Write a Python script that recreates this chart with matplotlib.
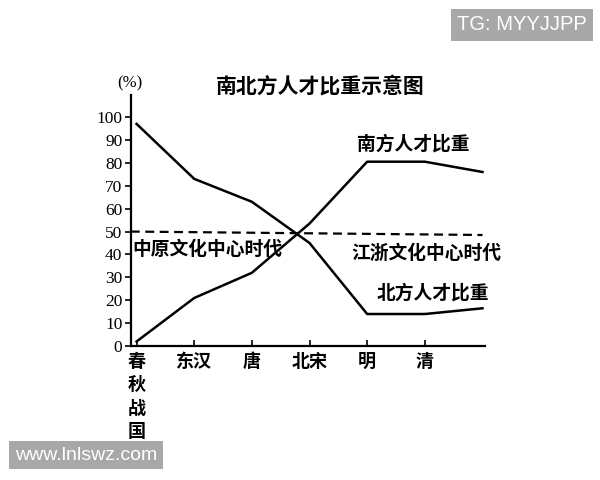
"""
南北方人才比重示意图
"""
import matplotlib
matplotlib.use('Agg')
import matplotlib.pyplot as plt

# 字体设置
plt.rcParams['font.family'] = ['Noto Sans CJK SC', 'DejaVu Sans']
plt.rcParams['axes.unicode_minus'] = False

# 数据
periods = ['春\n秋\n战\n国', '东汉', '唐', '北宋', '明', '清', '']
x_pos = [0, 1, 2, 3, 4, 5, 6]
north_share = [97, 73, 63, 45, 14, 14, 16.5]
south_share = [2, 21, 32, 53.5, 80.5, 80.5, 76]
divide_x = [-0.1, 6.0]
divide_y = [50, 48.5]
y_ticks = list(range(0, 101, 10))

fig = plt.figure(figsize=(6, 4.8), dpi=100)
ax = fig.add_axes([0.218, 0.279, 0.59, 0.523])

ax.plot(x_pos, north_share, color='black', linewidth=1.8)
ax.plot(x_pos, south_share, color='black', linewidth=1.8)
ax.plot(divide_x, divide_y, color='black', linewidth=1.6, linestyle=(0, (4, 2.5)))

ax.set_xlim(-0.1, 6.04)
ax.set_ylim(0, 109.6)

ax.set_yticks(y_ticks)
ax.set_yticklabels([str(v) for v in y_ticks], family='Liberation Serif', fontsize=12.5)
ax.set_xticks(x_pos[:6])
ax.set_xticklabels(periods[:6], fontsize=13, fontweight='bold', linespacing=1.3, va='top')

ax.tick_params(axis='y', direction='out', length=4, width=1.2, pad=2)
ax.tick_params(axis='x', direction='in', length=4, width=1.2, pad=4)

for side in ['top', 'right']:
    ax.spines[side].set_visible(False)
for side in ['left', 'bottom']:
    ax.spines[side].set_linewidth(1.6)

# 文字标注
ax.text(3.82, 88, '南方人才比重', fontsize=13.5, fontweight='bold', va='center')
ax.text(-0.07, 42, '中原文化中心时代', fontsize=13.5, fontweight='bold', va='center')
ax.text(3.73, 40.5, '江浙文化中心时代', fontsize=13.5, fontweight='bold', va='center')
ax.text(4.17, 23, '北方人才比重', fontsize=13.5, fontweight='bold', va='center')

fig.text(130 / 600, 1 - 83 / 480, '(%)', family='Liberation Serif', fontsize=12,
         ha='center', va='center')
fig.text(320 / 600, 1 - 86 / 480, '南北方人才比重示意图', fontsize=15, fontweight='bold',
         ha='center', va='center')

# 水印
fig.text(457 / 600, 1 - 25 / 480, 'TG: MYYJJPP', family='Liberation Sans', fontsize=14.5,
         color='white', va='center', ha='left',
         bbox=dict(boxstyle='square,pad=0.3', facecolor='#a8a8a8', edgecolor='none'))
fig.text(15 / 600, 1 - 455 / 480, 'www.lnlswz.com', family='Liberation Sans', fontsize=14,
         color='white', va='center', ha='left',
         bbox=dict(boxstyle='square,pad=0.3', facecolor='#a8a8a8', edgecolor='none'))

fig.savefig('out.png', dpi=100)
plt.close(fig)
